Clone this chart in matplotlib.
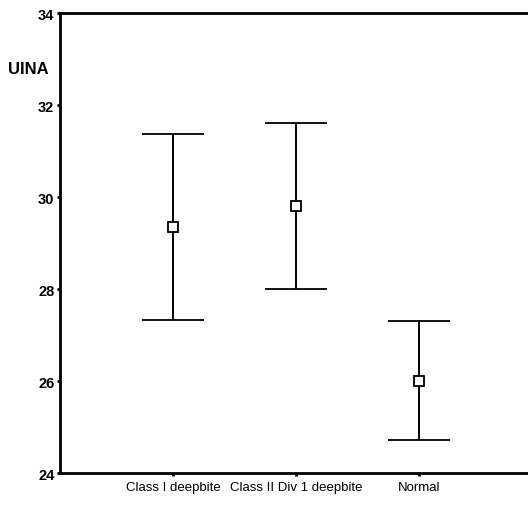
import matplotlib.pyplot as plt
import numpy as np

# Group means with lower/upper error limits for UINA
groups = ["Class I deepbite", "Class II Div 1 deepbite", "Normal"]
means = [29.35, 29.8, 26.0]
lower = [27.32, 28.0, 24.72]
upper = [31.38, 31.6, 27.3]

yticks = [24, 26, 28, 30, 32, 34]

plt.rcParams['font.family'] = ['Liberation Sans', 'DejaVu Sans']

fig = plt.figure(figsize=(5.28, 5.06), dpi=100)
ax = fig.add_axes([60 / 528, 32 / 506, 1 - 60 / 528, 460 / 506])

x = np.arange(1, len(groups) + 1)
m = np.array(means)
err = [m - np.array(lower), np.array(upper) - m]

ax.errorbar(x, m, yerr=err, fmt='s', color='black', ecolor='black',
            elinewidth=1.4, capsize=22, capthick=1.4,
            markersize=6.5, markerfacecolor='white', markeredgewidth=1.3)

ax.set_xlim(0.081, 3.886)
ax.set_ylim(24, 34)
ax.set_xticks(x)
ax.set_xticklabels(groups, fontsize=9.5)
ax.set_yticks(yticks)
ax.set_yticklabels([str(t) for t in yticks], fontsize=10.5, fontweight='bold')

for side in ['left', 'top', 'bottom']:
    ax.spines[side].set_linewidth(2)
ax.spines['right'].set_visible(False)
ax.tick_params(axis='both', length=2, width=2, pad=2)
ax.tick_params(axis='x', pad=4)

fig.text(28 / 528, 1 - 70 / 506, "UINA", fontsize=12, fontweight='bold',
         ha='center', va='center')

fig.savefig("out.png", dpi=100, facecolor='white')
